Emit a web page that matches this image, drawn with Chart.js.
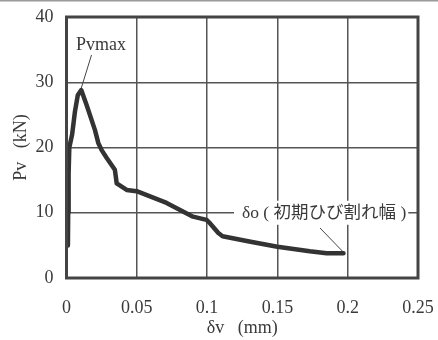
<!DOCTYPE html>
<html><head><meta charset="utf-8">
<script src="https://cdn.jsdelivr.net/npm/chart.js@4/dist/chart.umd.min.js"></script>
<style>html,body{margin:0;padding:0;background:#fff}#wrap{width:438px;height:340px}</style>
</head><body><div id="wrap"><canvas id="c" width="438" height="340"></canvas></div>
<script>
const deltaV = [0.001,0.0012,0.0015,0.002,0.004,0.006,0.008,0.0105,0.0143,0.0202,0.0226,0.025,0.0286,0.0344,0.0357,0.0428,0.0499,0.0712,0.090,0.0996,0.102,0.108,0.111,0.130,0.150,0.173,0.185,0.197];
const pv     = [5,10,16,20,22,25.5,28,28.8,26.5,22.7,20.7,19.6,18.4,16.6,14.5,13.5,13.3,11.5,9.4,8.9,8.4,6.9,6.4,5.6,4.8,4.1,3.8,3.8];
const xTicks = [0,0.05,0.1,0.15,0.2,0.25];
const yTicks = [0,10,20,30,40];
const xTitle = 'δv   (mm)';
const yTitle = 'Pv   (kN)';
const peakLabel = 'Pvmax';
const crackLabel = 'δo ( 初期ひび割れ幅 )';

const ink = '#3a3a3a';
const serif = "'Liberation Serif','DejaVu Serif',serif";

const annot = {
  id: 'annot',
  afterDatasetsDraw(chart) {
    const {ctx, chartArea: a, scales: {x, y}} = chart;
    ctx.save();
    ctx.strokeStyle = '#444'; ctx.lineWidth = 3;
    ctx.strokeRect(a.left, a.top, a.right - a.left, a.bottom - a.top);
    ctx.strokeStyle = '#999'; ctx.lineWidth = 1.5;
    ctx.beginPath(); ctx.moveTo(0, 0.75); ctx.lineTo(438, 0.75); ctx.stroke();
    const pi = pv.indexOf(Math.max(...pv));
    const px = x.getPixelForValue(deltaV[pi]), py = y.getPixelForValue(pv[pi]);
    ctx.fillStyle = ink; ctx.font = '18px ' + serif; ctx.textBaseline = 'alphabetic'; ctx.textAlign = 'left';
    ctx.fillText(peakLabel, 76, 50);
    ctx.strokeStyle = '#444'; ctx.lineWidth = 1;
    ctx.beginPath(); ctx.moveTo(91.5, 55); ctx.lineTo(px, py - 2); ctx.stroke();
    const last = deltaV.length - 1;
    const ex = x.getPixelForValue(deltaV[last]), ey = y.getPixelForValue(pv[last]);
    const ty = y.getPixelForValue(10);
    ctx.font = "17.5px 'Liberation Serif','Noto Sans CJK JP',serif";
    const w = ctx.measureText(crackLabel).width;
    const tx = 242;
    ctx.fillStyle = '#fff';
    ctx.fillRect(tx - 8, ty - 12, w + 10, 24);
    ctx.fillStyle = ink;
    ctx.textBaseline = 'middle';
    ctx.fillText(crackLabel, tx, ty + 1);
    ctx.beginPath(); ctx.moveTo(320, 228); ctx.lineTo(ex - 1, ey - 2); ctx.stroke();
    ctx.restore();
  }
};

new Chart(document.getElementById('c'), {
  type: 'scatter',
  data: { datasets: [{
    data: deltaV.map((v, i) => ({x: v, y: pv[i]})),
    showLine: true, borderColor: '#333', borderWidth: 4.5, pointRadius: 0,
    tension: 0, borderJoinStyle: 'round', borderCapStyle: 'round'
  }]},
  options: {
    responsive: false, animation: false, devicePixelRatio: 1,
    layout: { padding: { top: 17, right: 20, left: 0, bottom: 0 } },
    plugins: { legend: { display: false }, tooltip: { enabled: false } },
    scales: {
      x: {
        type: 'linear', min: 0, max: 0.25,
        afterBuildTicks: s => { s.ticks = xTicks.map(v => ({value: v})); },
        afterFit: s => { s.height = 62; s.paddingLeft = 0; s.paddingRight = 0; },
        grid: { color: '#555', lineWidth: 1.5, drawTicks: false },
        border: { display: false },
        ticks: { color: ink, font: { family: serif, size: 18 }, padding: 19, maxRotation: 0,
          callback: v => String(v) },
        title: { display: true, text: xTitle, color: ink, font: { family: serif, size: 18 }, padding: { top: 0, bottom: 1 } }
      },
      y: {
        min: 0, max: 40,
        afterBuildTicks: s => { s.ticks = yTicks.map(v => ({value: v})); },
        afterFit: s => { s.width = 66.5; s.paddingTop = 0; s.paddingBottom = 0; },
        grid: { color: '#555', lineWidth: 1.5, drawTicks: false },
        border: { display: false },
        ticks: { color: ink, font: { family: serif, size: 18 }, padding: 13,
          callback: v => String(v) },
        title: { display: true, text: yTitle, color: ink, font: { family: serif, size: 18 }, padding: { top: 10, bottom: 0 } }
      }
    }
  },
  plugins: [annot]
});
</script></body></html>
